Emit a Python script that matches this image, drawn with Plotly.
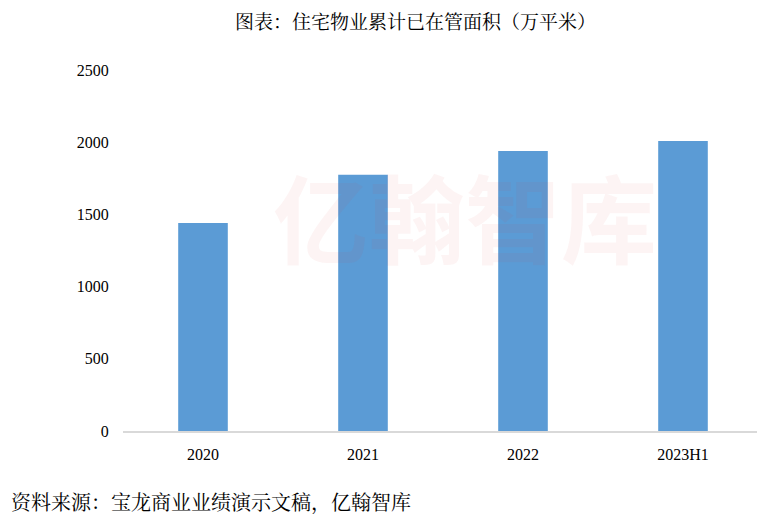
import plotly.graph_objects as go

categories = ["2020", "2021", "2022", "2023H1"]
values = [1440, 1775, 1939, 2008]
y_ticks = [0, 500, 1000, 1500, 2000, 2500]

title_text = "图表：住宅物业累计已在管面积（万平米）"
source_text = "资料来源：宝龙商业业绩演示文稿，亿翰智库"
watermark_text = "亿翰智库"

serif = "Liberation Serif, Times New Roman, serif"
cjk = "Noto Serif CJK SC, Noto Sans CJK SC, serif"
cjk_sans = "Noto Sans CJK SC, sans-serif"

# page is rendered with an 8px body margin -> figure drawn at (8, 8)
OFF = 8
L, T, PW, PH = 123 - OFF, 70 - OFF, 640, 361
W, H = 765 - OFF, 524 - OFF

def px(xp):
    return (xp - OFF - L) / PW

def py(yp):
    return 1 - (yp - OFF - T) / PH

fig = go.Figure(go.Bar(
    x=categories, y=values,
    marker=dict(color="#5B9BD5", line=dict(width=0)),
    width=0.31,
))

fig.update_layout(
    width=W, height=H,
    margin=dict(l=L, r=W - L - PW, t=T, b=H - T - PH),
    paper_bgcolor="white", plot_bgcolor="white",
    showlegend=False,
    xaxis=dict(
        showline=True, linecolor="#D9D9D9", linewidth=2,
        ticks="outside", ticklen=8, tickcolor="rgba(0,0,0,0)",
        tickfont=dict(family=serif, size=16, color="#000"),
        showgrid=False, zeroline=False,
    ),
    yaxis=dict(
        range=[0, 2500], tickvals=y_ticks,
        ticktext=[str(v) for v in y_ticks],
        showgrid=False, zeroline=False, showline=False,
        ticks="outside", ticklen=10, tickcolor="rgba(0,0,0,0)",
        tickfont=dict(family=serif, size=16, color="#000"),
    ),
    annotations=[
        dict(text=watermark_text, xref="paper", yref="paper", x=px(465), y=py(215),
             showarrow=False, xanchor="center", yanchor="middle",
             font=dict(family=cjk_sans, size=96, weight="bold", color="rgba(215,60,60,0.06)")),
        dict(text=title_text, xref="paper", yref="paper", x=px(415), y=py(21),
             showarrow=False, xanchor="center", yanchor="middle",
             font=dict(family=cjk, size=19, color="#000")),
        dict(text=source_text, xref="paper", yref="paper", x=px(9), y=py(502),
             showarrow=False, xanchor="left", yanchor="middle",
             font=dict(family=cjk, size=20, color="#000")),
    ],
)

fig.write_html("out.html")
